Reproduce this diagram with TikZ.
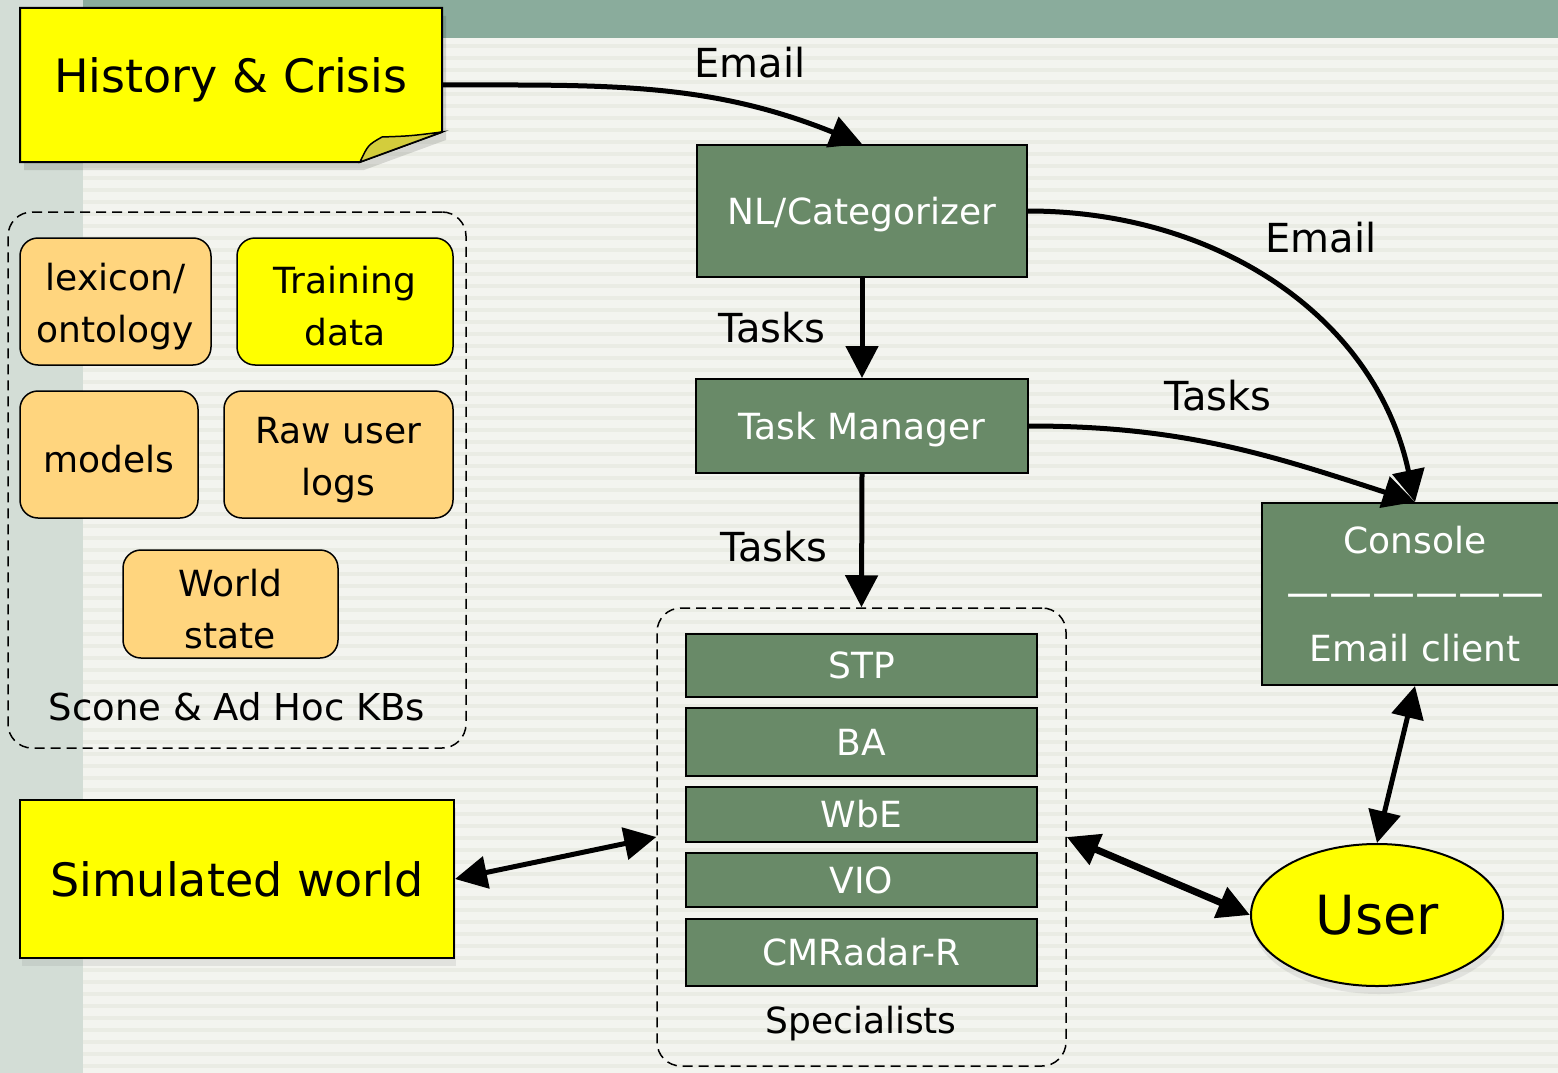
\documentclass[tikz,border=0pt]{standalone}
\usepackage{fontspec}
\setmainfont{DejaVu Sans}
\usetikzlibrary{arrows.meta,shadows,shapes.geometric}

\definecolor{boxgreen}{HTML}{698A68}
\definecolor{noteyellow}{HTML}{FFFF00}
\definecolor{kborange}{HTML}{FFD57E}
\definecolor{flapyellow}{HTML}{D3CD3C}
\definecolor{bandgreen}{HTML}{8AAC9C}
\definecolor{sidegreen}{HTML}{D3DDD6}
\definecolor{paper}{HTML}{F3F4EF}
\definecolor{stripe}{HTML}{EAECE4}

\newcommand{\kbfont}{\fontsize{36}{52}\selectfont}
\newcommand{\notefont}{\fontsize{46}{56}\selectfont}
\newcommand{\lblfont}{\fontsize{40}{48}\selectfont}
\newcommand{\kbstrut}{\rule{0pt}{37pt}}

\begin{document}
\begin{tikzpicture}[x=1pt, y=-1pt,
  every node/.style={inner sep=0pt},
  greenbox/.style={rectangle, draw=black, line width=2pt, fill=boxgreen, text=white, font=\kbfont},
  onerow/.style={greenbox, text height=26pt, text depth=0pt},
  kbbox/.style={rectangle, rounded corners=18pt, draw=black, line width=1.5pt, fill=kborange, font=\kbfont, align=center},
  notebox/.style={rectangle, draw=black, line width=2pt, fill=noteyellow, font=\notefont, drop shadow={opacity=0.15, shadow xshift=2pt, shadow yshift=-8pt}},
  dashbox/.style={rectangle, rounded corners=24pt, draw=black, line width=1.5pt, dash pattern=on 10pt off 6pt},
  lbl/.style={font=\lblfont},
  flow/.style={line width=5pt, -{Triangle[length=32pt, width=32pt]}},
  twoway/.style={line width=5pt, {Triangle[length=32pt, width=32pt]}-{Triangle[length=32pt, width=32pt]}}]

  \useasboundingbox (0,0) rectangle (1558,1073);
  \clip (0,0) rectangle (1558,1073);

  % background
  \fill[paper] (0,0) rectangle (1558,1073);
  \foreach \y in {44,56,...,1070}
    \fill[stripe] (83,\y) rectangle (1558,\y+4);
  \fill[sidegreen] (0,0) rectangle (83,1073);
  \fill[bandgreen] (83,0) rectangle (1558,38);

  % history note with folded corner
  \fill[black, opacity=0.12] (24,16) -- (446,16) -- (446,140) -- (364,170) -- (24,170) -- cycle;
  \draw[line width=2pt, fill=noteyellow] (20,8) -- (442,8) -- (442,132) -- (360,162) -- (20,162) -- cycle;
  \draw[line width=1.5pt, fill=flapyellow] (360,162) .. controls (368,145) .. (382,137) .. controls (410,136) .. (442,132) -- cycle;
  \node[font=\notefont] (hist) at (231,80) {History \& Crisis};
  \coordinate (histout) at (442,85);

  % knowledge bases
  \node[dashbox, minimum width=458pt, minimum height=536pt] (kbs) at (237,480) {};
  \node[kbbox, minimum width=191pt, minimum height=127pt] (lex) at (115.5,301.5) {\kbstrut lexicon/\\ontology};
  \node[kbbox, fill=noteyellow, minimum width=216pt, minimum height=127pt] (train) at (345,301.5) {\kbstrut Training\\data};
  \node[kbbox, minimum width=178pt, minimum height=127pt] (models) at (109,454.5) {\kbstrut models};
  \node[kbbox, minimum width=229pt, minimum height=127pt] (logs) at (338.5,454.5) {\kbstrut Raw user\\logs};
  \node[kbbox, minimum width=215pt, minimum height=108pt] (world) at (230.5,604) {\kbstrut World\\state};
  \node[font=\fontsize{37}{52}\selectfont] (kbname) at (237,707) {Scone \& Ad Hoc KBs};

  % simulated world
  \node[notebox, minimum width=434pt, minimum height=158pt] (sim) at (237,879) {Simulated world};

  % pipeline
  \node[onerow, minimum width=330pt, minimum height=132pt] (nlc) at (862,211) {NL/Categorizer};
  \node[onerow, minimum width=332pt, minimum height=94pt] (tm) at (862,426) {Task Manager};

  % specialists
  \node[dashbox, minimum width=409pt, minimum height=458pt] (spec) at (861.5,837) {};
  \foreach \nm/\txt/\cy/\h in {stp/STP/665.5/63, ba/BA/742/68, wbe/WbE/814.5/55, vio/VIO/880/54, cmr/CMRadar-R/952.5/67}
    \node[onerow, minimum width=351pt, minimum height=\h pt] (\nm) at (861.5,\cy) {\txt};
  \node[font=\kbfont] (specname) at (861,1024) {Specialists};

  % console and user
  \node[greenbox, align=center, minimum width=306pt, minimum height=182pt, font=\fontsize{36}{54}\selectfont] (con) at (1415,594) {Console\\{\fontsize{43}{54}\selectfont ——————}\\Email client};
  \node[ellipse, draw=black, line width=2pt, fill=noteyellow, minimum width=252pt, minimum height=142pt, font=\fontsize{54}{60}\selectfont, drop shadow={opacity=0.15, shadow xshift=2pt, shadow yshift=-8pt}] (user) at (1377,915) {User};

  % connectors
  \draw[flow] (histout) to[out=0, in=158] (nlc.north);
  \draw[flow] (nlc.east) to[out=0, in=102] (con.north);
  \draw[flow] (nlc.south) -- (tm.north);
  \draw[flow] (tm.east) to[out=0, in=162] (con.north);
  \draw[flow] (tm.south) -- (spec.north);
  \draw[twoway] (sim.east) -- (spec.west);
  \draw[twoway, line width=7pt] (spec.east) -- (user.west);
  \draw[twoway] (con.south) -- (user.north);

  % connector labels
  \node[lbl] (e1) at (750,63) {Email};
  \node[lbl] (e2) at (1321,238) {Email};
  \node[lbl] (t1) at (772,328) {Tasks};
  \node[lbl] (t2) at (1218,396) {Tasks};
  \node[lbl] (t3) at (774,547) {Tasks};
\end{tikzpicture}
\end{document}
